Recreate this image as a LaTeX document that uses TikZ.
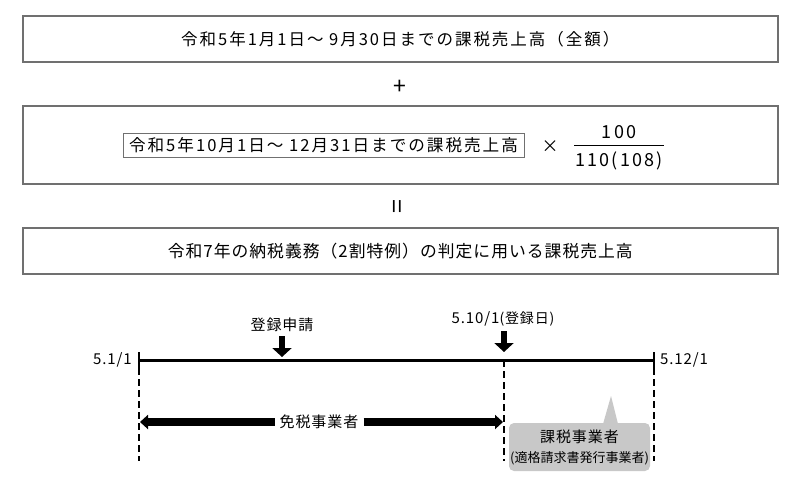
\documentclass[tikz,border=0pt]{standalone}
\usepackage{fontspec}
\setmainfont{Noto Sans CJK JP}
\newfontfamily\jpf[LetterSpace=6]{Noto Sans CJK JP}
\newfontfamily\jpw[LetterSpace=12]{Noto Sans CJK JP}
\usetikzlibrary{arrows.meta}
\definecolor{boxgray}{HTML}{707070}
\definecolor{callgray}{HTML}{C8C8C8}
\begin{document}
\begin{tikzpicture}[x=1pt,y=-1pt,
  bigbox/.style={draw=boxgray, line width=1.4pt, minimum width=755pt, inner sep=0pt},
  boxtext/.style={font=\jpf\fontsize{16.8}{19}\selectfont},
  tltext/.style={font=\jpf\fontsize{15}{18}\selectfont, inner sep=1pt},
  tline/.style={line width=3pt},
  tick/.style={line width=1.6pt},
  dashline/.style={line width=1.8pt, dash pattern=on 7pt off 4pt},
  downarrow/.style={line width=6pt, -{Triangle[length=9pt,width=19pt]}},
  bigarrow/.style={line width=8pt, -{Triangle[length=8pt,width=14pt]}, shorten >=-1pt}
]
\useasboundingbox (0,0) rectangle (800,483);

% boxes
\node[bigbox, minimum height=46pt, font=\jpw\fontsize{16.5}{19}\selectfont] (b1) at (400.3,38.8)
  {令和5年1月1日～ 9月30日までの課税売上高（全額）};
\node[font=\fontsize{23}{24}\selectfont] (plus) at (400,87) {+};
\node[bigbox, minimum height=78pt] (b2) at (400.3,145) {};
\node[draw=boxgray, line width=1pt, minimum width=401pt, minimum height=24pt, inner sep=0pt, font=\jpw\fontsize{16.6}{19}\selectfont] (inner) at (323.5,145)
  {令和5年10月1日～ 12月31日までの課税売上高};
\node[font=\fontsize{17}{18}\selectfont] (times) at (550,147) {×};
\node[font=\jpw\fontsize{18}{20}\selectfont, inner sep=1pt] (num) at (619,132) {100};
\node[font=\jpw\fontsize{18}{20}\selectfont, inner sep=1pt] (den) at (619,161) {110(108)};
\coordinate (fl) at (574,145);
\coordinate (fr) at (664,145);
\draw[line width=1pt] (fl) -- (fr);
\node[rotate=90, font=\fontsize{25}{26}\selectfont] (eq) at (400,207) {=};
\node[bigbox, minimum height=46pt, boxtext] (b3) at (400.3,251)
  {令和7年の納税義務（2割特例）の判定に用いる課税売上高};

% timeline
\coordinate (t0) at (139,360);
\coordinate (t1) at (504,360);
\coordinate (t2) at (654,360);
\coordinate (k0a) at (139,352);
\coordinate (k0b) at (139,368);
\coordinate (k2a) at (654,352);
\coordinate (k2b) at (654,368);
\coordinate (d0) at (139,461);
\coordinate (d1) at (504,461);
\coordinate (d2) at (654,461);
\draw[tline] (t0) -- (t2);
\draw[tick] (k0a) -- (k0b);
\draw[tick] (k2a) -- (k2b);
\draw[dashline] (k0b) -- (d0);
\draw[dashline] (t1) -- (d1);
\draw[dashline] (k2b) -- (d2);

\node[tltext, anchor=east] (l0) at (133,360) {5.1/1};
\node[tltext, anchor=west] (l2) at (659,360) {5.12/1};

\node[tltext] (apply) at (282,325) {登録申請};
\coordinate (a1s) at (282,336);
\coordinate (a1e) at (282,357);
\draw[downarrow] (a1s) -- (a1e);

\node[tltext] (regday) at (503,319) {5.10/1{\fontsize{14}{16}\selectfont (登録日)}};
\coordinate (a2s) at (504,331);
\coordinate (a2e) at (504,352);
\draw[downarrow] (a2s) -- (a2e);

% exempt period
\node[tltext, fill=white, inner xsep=5pt] (mz) at (319,422) {免税事業者};
\coordinate (mzl) at (141,422);
\coordinate (mzr) at (502,422);
\draw[bigarrow] (mz.west) -- (mzl);
\draw[bigarrow] (mz.east) -- (mzr);

% callout
\node[fill=callgray, rounded corners=5pt, minimum width=141pt, minimum height=48pt, inner sep=0pt] (call) at (579.5,447) {};
\coordinate (ctip) at (611,396);
\coordinate (cb1) at (603,424);
\coordinate (cb2) at (618,424);
\fill[callgray] (ctip) -- (cb1) -- (cb2) -- cycle;
\node[tltext] (c1) at (579.5,437) {課税事業者};
\node[font=\fontsize{13}{15}\selectfont, inner sep=0pt] (c2) at (579.5,458) {(適格請求書発行事業者)};
\end{tikzpicture}
\end{document}
